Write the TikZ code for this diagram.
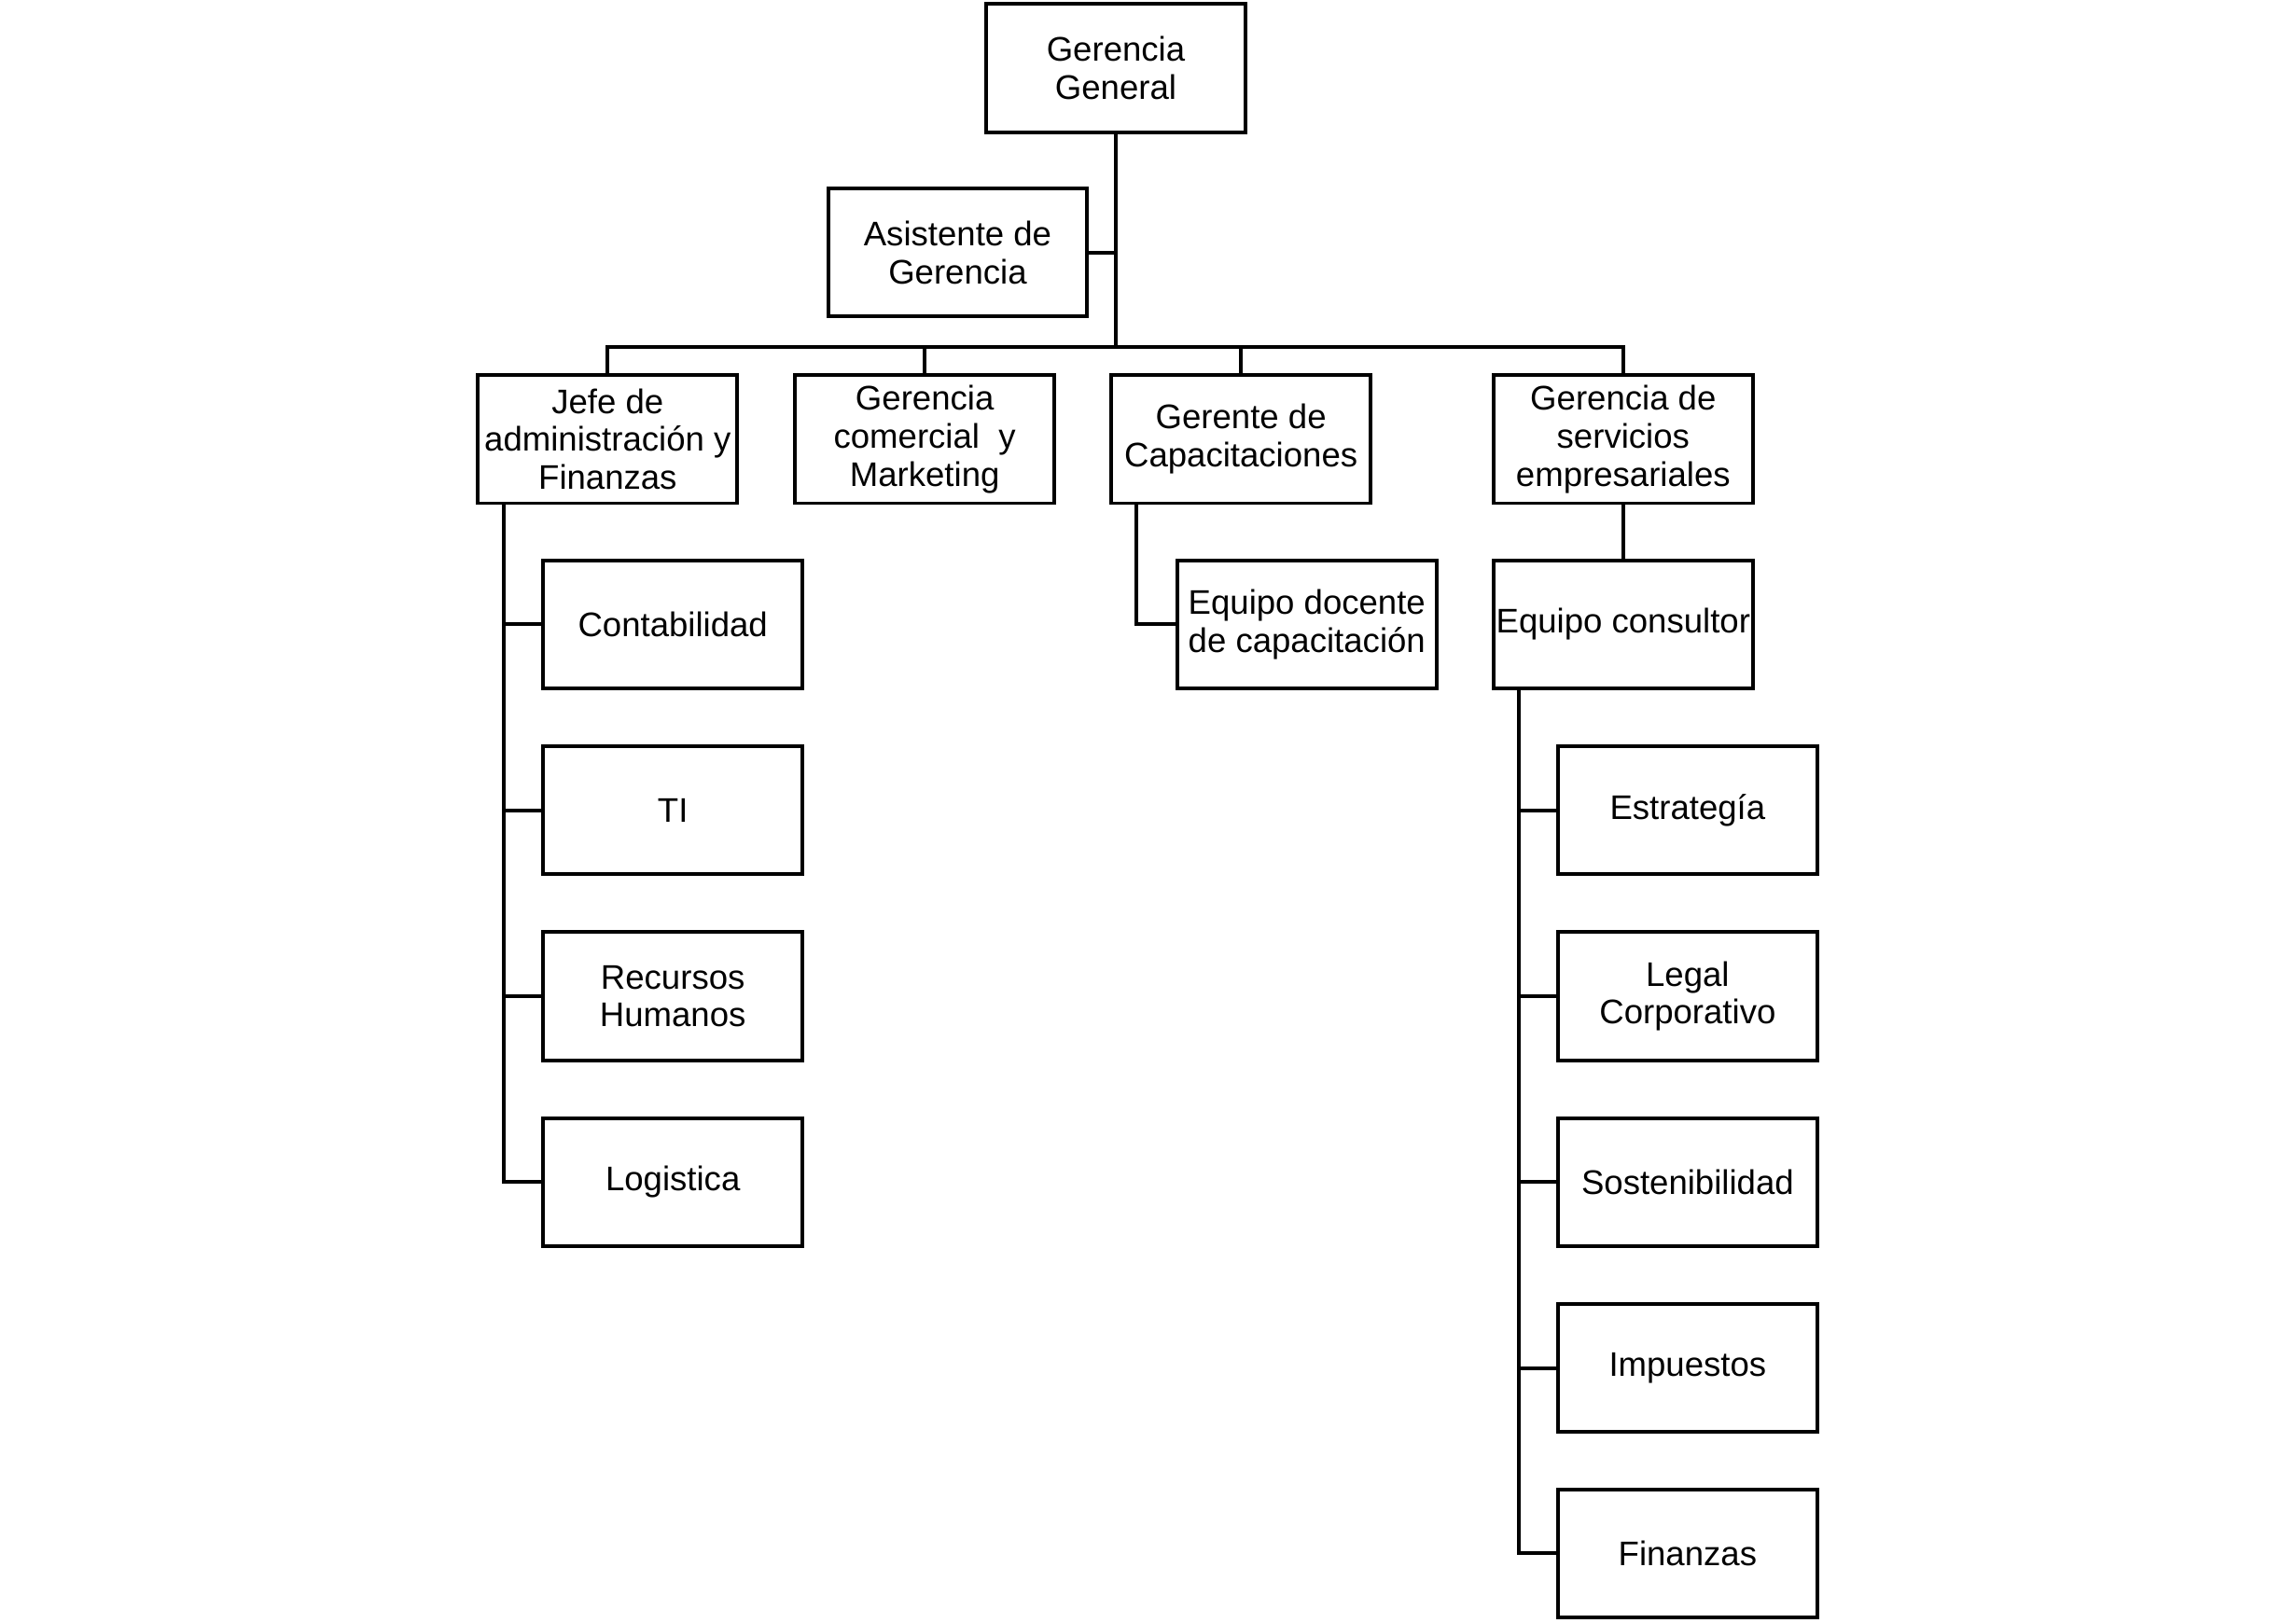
\documentclass[tikz,border=0pt]{standalone}
\usepackage{fontspec}
\setmainfont{Liberation Sans}
\begin{document}
\begin{tikzpicture}[x=1pt,y=-1pt,
  orgbox/.style={draw=black, line width=2.5pt, minimum width=177pt, minimum height=87.5pt,
    inner sep=0pt, align=center, font=\fontsize{23.3}{26}\selectfont, text=black},
  conn/.style={draw=black, line width=2.5pt}]
\useasboundingbox[fill=white] (0,0) rectangle (1568,1108);
% top levels
\node[orgbox] (GG)   at (762,46.5)   {Gerencia\\General};
\node[orgbox] (Asis) at (654,172.5)  {Asistente de\\Gerencia};
\node[orgbox] (Jefe) at (415,300)    {Jefe de\\administración y\\Finanzas};
\node[orgbox] (Com)  at (631.5,300)  {Gerencia\\comercial\ \ y\\Marketing};
\node[orgbox] (Cap)  at (847.5,300)  {Gerente de\\Capacitaciones};
\node[orgbox] (Serv) at (1108.5,300) {Gerencia de\\servicios\\empresariales};
% Jefe children
\node[orgbox] (Cont) at (459.5,426.5) {Contabilidad};
\node[orgbox] (TI)   at (459.5,553.5) {TI};
\node[orgbox] (RH)   at (459.5,680.5) {Recursos\\Humanos};
\node[orgbox] (Log)  at (459.5,807.5) {Logistica};
% Cap child
\node[orgbox] (Doc)  at (892.5,426.5) {Equipo docente\\de capacitación};
% Serv child
\node[orgbox] (Cons) at (1108.5,426.5) {Equipo consultor};
\node[orgbox] (Est)  at (1152.5,553.5) {Estrategía};
\node[orgbox] (Leg)  at (1152.5,680.5) {Legal\\Corporativo};
\node[orgbox] (Sos)  at (1152.5,807.5) {Sostenibilidad};
\node[orgbox] (Imp)  at (1152.5,934.5) {Impuestos};
\node[orgbox] (Fin)  at (1152.5,1061)  {Finanzas};
% coordinates
\coordinate (bus) at (762,237);
\coordinate (jsp) at (344,300);
\coordinate (csp) at (776,300);
\coordinate (ssp) at (1037,426.5);
% connectors
\draw[conn] (GG.south) -- (bus);
\draw[conn] (Asis.east) -- (Asis.east -| GG.south);
\draw[conn] (Jefe.north) -- (Jefe.north |- bus) -- (Serv.north |- bus) -- (Serv.north);
\draw[conn] (Com.north) -- (Com.north |- bus);
\draw[conn] (Cap.north) -- (Cap.north |- bus);
\draw[conn] (jsp |- Jefe.south) |- (Log.west);
\draw[conn] (Cont.west) -- (Cont.west -| jsp);
\draw[conn] (TI.west) -- (TI.west -| jsp);
\draw[conn] (RH.west) -- (RH.west -| jsp);
\draw[conn] (csp |- Cap.south) |- (Doc.west);
\draw[conn] (Serv.south) -- (Cons.north);
\draw[conn] (ssp |- Cons.south) |- (Fin.west);
\draw[conn] (Est.west) -- (Est.west -| ssp);
\draw[conn] (Leg.west) -- (Leg.west -| ssp);
\draw[conn] (Sos.west) -- (Sos.west -| ssp);
\draw[conn] (Imp.west) -- (Imp.west -| ssp);
\end{tikzpicture}
\end{document}
